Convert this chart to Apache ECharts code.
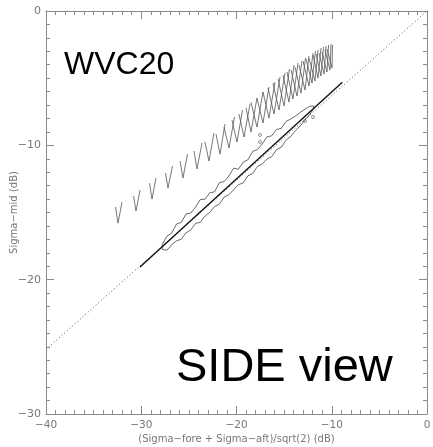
<!DOCTYPE html>
<html>
<head>
<meta charset="utf-8">
<script src="https://cdn.jsdelivr.net/npm/echarts@6/dist/echarts.min.js"></script>
<style>
  html, body { margin: 0; padding: 0; background: #fff; }
  #main { width: 433px; height: 447px; }
</style>
</head>
<body>
<div id="main"></div>
<script>
  // axis ranges (dB)
  var xRange = [-40, 0];
  var yRange = [-30, 0];
  var majorStep = 10;

  // dotted reference line
  var refX = [-40, 0];
  var refY = [-25.2, 0];

  // solid line
  var fitX = [-30.13, -8.89];
  var fitY = [-19.06, -5.3];

  // V shaped curves: left arm top, cusp, right arm top
  var vLeftX = [-32.70, -30.81, -29.13, -27.45, -25.93, -24.46, -23.31, -22.15, -21.31, -20.47, -19.74, -19.00, -18.48, -17.85, -17.22, -16.69, -16.17, -15.64, -15.12, -14.70, -14.28, -13.86, -13.44, -13.02, -12.70, -12.39, -11.97, -11.65, -11.34, -11.02, -10.71, -10.50];
  var vLeftY = [-14.59, -13.78, -12.81, -12.06, -11.17, -10.42, -9.75, -9.16, -8.64, -8.12, -7.67, -7.22, -6.78, -6.48, -6.03, -5.73, -5.36, -5.06, -4.77, -4.54, -4.39, -4.17, -4.02, -3.72, -3.57, -3.50, -3.28, -3.20, -3.13, -3.05, -2.90, -2.83];
  var vCuspX = [-32.44, -30.55, -28.87, -27.19, -25.62, -24.15, -22.89, -21.73, -20.79, -19.95, -19.21, -18.48, -17.85, -17.22, -16.59, -16.06, -15.54, -15.01, -14.49, -14.07, -13.65, -13.23, -12.81, -12.39, -12.07, -11.76, -11.44, -11.13, -10.81, -10.50, -10.18, -9.97];
  var vCuspY = [-15.79, -14.89, -14.00, -13.18, -12.43, -11.76, -11.17, -10.65, -10.20, -9.75, -9.38, -9.01, -8.64, -8.34, -7.97, -7.67, -7.37, -7.07, -6.78, -6.55, -6.33, -6.11, -5.88, -5.58, -5.36, -5.21, -4.99, -4.84, -4.69, -4.54, -4.39, -4.24];
  var vRightX = [-32.02, -30.13, -28.45, -26.72, -25.14, -23.62, -22.36, -21.21, -20.21, -19.37, -18.58, -17.85, -17.22, -16.59, -15.96, -15.43, -14.91, -14.44, -13.96, -13.54, -13.12, -12.75, -12.39, -11.97, -11.71, -11.44, -11.13, -10.87, -10.60, -10.34, -10.08, -9.92];
  var vRightY = [-14.22, -13.33, -12.43, -11.54, -10.65, -9.83, -9.08, -8.41, -7.89, -7.37, -6.92, -6.48, -6.03, -5.66, -5.29, -4.91, -4.62, -4.32, -4.02, -3.87, -3.72, -3.50, -3.35, -3.13, -2.98, -2.90, -2.76, -2.68, -2.61, -2.53, -2.46, -2.53];

  // contour band around the solid line
  var bandX = [-27.8, -27.3, -26.8, -26.3, -25.8, -25.3, -24.8, -24.3, -23.8, -23.3, -22.8, -22.3, -21.8, -21.3, -20.8, -20.3, -19.8, -19.3, -18.8, -18.3, -17.8, -17.3, -16.8, -16.3, -15.8, -15.3, -14.8, -14.3, -13.8, -13.3, -12.8, -12.3, -11.9];
  var bandUpperY = [-17.39, -16.76, -16.54, -15.86, -15.74, -15.11, -15.04, -14.61, -14.03, -14.01, -13.53, -13.46, -12.78, -12.70, -12.28, -11.70, -11.78, -11.25, -11.07, -10.45, -10.32, -9.90, -9.37, -9.29, -8.82, -8.74, -8.22, -8.04, -7.81, -7.54, -7.31, -7.09, -7.07];
  var bandLowerY = [-17.74, -17.81, -17.39, -17.11, -16.99, -16.51, -16.29, -15.81, -15.73, -15.26, -14.98, -14.56, -14.38, -13.85, -13.68, -13.30, -12.93, -12.80, -12.27, -12.10, -11.57, -11.40, -11.02, -10.84, -10.32, -10.14, -9.62, -9.34, -8.91, -8.54, -8.11, -7.69, -7.27];

  // small isolated contours
  var blobX = [-17.53, -17.53, -12.81, -11.97];
  var blobY = [-9.23, -9.75, -8.19, -7.89];

  var axisGray = '#8a8a8a';
  var labelGray = '#777';

  function minusFmt(v) {
    return String(v).replace('-', '\u2212');
  }

  function frameAxis(pos, range, showLabel) {
    return {
      type: 'value',
      position: pos,
      min: range[0],
      max: range[1],
      interval: majorStep,
      splitLine: { show: false },
      axisLine: { show: true, onZero: false, lineStyle: { color: axisGray, width: 1 } },
      axisTick: { show: true, inside: true, length: 8, lineStyle: { color: axisGray } },
      minorTick: { show: true, splitNumber: 10, length: 4, lineStyle: { color: axisGray } },
      axisLabel: {
        show: showLabel,
        color: labelGray,
        fontFamily: 'DejaVu Sans',
        fontSize: 11,
        margin: 5,
        formatter: minusFmt
      }
    };
  }

  var series = [];

  series.push({
    type: 'line',
    data: [[refX[0], refY[0]], [refX[1], refY[1]]],
    symbol: 'none',
    silent: true,
    lineStyle: { color: '#555', width: 1, type: [1, 2.5] }
  });

  for (var i = 0; i < vCuspX.length; i++) {
    series.push({
      type: 'line',
      data: [[vLeftX[i], vLeftY[i]], [vCuspX[i], vCuspY[i]], [vRightX[i], vRightY[i]]],
      symbol: 'none',
      silent: true,
      lineStyle: { color: '#555', width: 0.8 }
    });
  }

  var bandPts = [];
  for (var j = 0; j < bandX.length; j++) bandPts.push([bandX[j], bandUpperY[j]]);
  for (var k = bandX.length - 1; k >= 0; k--) bandPts.push([bandX[k], bandLowerY[k]]);
  bandPts.push([bandX[0], bandUpperY[0]]);
  series.push({
    type: 'line',
    data: bandPts,
    symbol: 'none',
    silent: true,
    lineStyle: { color: '#444', width: 0.8 }
  });

  series.push({
    type: 'scatter',
    data: blobX.map(function (x, n) { return [x, blobY[n]]; }),
    symbol: 'circle',
    symbolSize: 3,
    silent: true,
    itemStyle: { color: '#fff', borderColor: '#555', borderWidth: 0.8 }
  });

  series.push({
    type: 'line',
    data: [[fitX[0], fitY[0]], [fitX[1], fitY[1]]],
    symbol: 'none',
    silent: true,
    lineStyle: { color: '#111', width: 1.4 }
  });

  var xBottom = frameAxis('bottom', xRange, true);
  xBottom.axisLabel.margin = 6;
  xBottom.axisLabel.fontSize = 10.5;
  xBottom.name = '(Sigma\u2212fore + Sigma\u2212aft)/sqrt(2) (dB)';
  xBottom.nameLocation = 'middle';
  xBottom.nameGap = 20;
  xBottom.nameMoveOverlap = false;
  xBottom.nameTextStyle = { color: labelGray, fontFamily: 'DejaVu Sans', fontSize: 10 };

  var yLeft = frameAxis('left', yRange, true);
  yLeft.name = 'Sigma\u2212mid (dB)';
  yLeft.nameLocation = 'middle';
  yLeft.nameGap = 27;
  yLeft.nameMoveOverlap = false;
  yLeft.nameTextStyle = { color: labelGray, fontFamily: 'DejaVu Sans', fontSize: 10 };

  var chart = echarts.init(document.getElementById('main'));
  chart.setOption({
    animation: false,
    backgroundColor: '#fff',
    grid: { left: 46, right: 6, top: 11, bottom: 33, containLabel: false, outerBoundsMode: 'none' },
    xAxis: [xBottom, frameAxis('top', xRange, false)],
    yAxis: [yLeft, frameAxis('right', yRange, false)],
    graphic: [
      {
        type: 'text', left: 64, top: 49,
        style: { text: 'WVC20', font: '32px "Liberation Sans", Arial, sans-serif', fill: '#000' }
      },
      {
        type: 'text', left: 176, top: 345,
        style: { text: 'SIDE view', font: '47px "Liberation Sans", Arial, sans-serif', fill: '#000' }
      }
    ],
    series: series
  });
</script>
</body>
</html>
